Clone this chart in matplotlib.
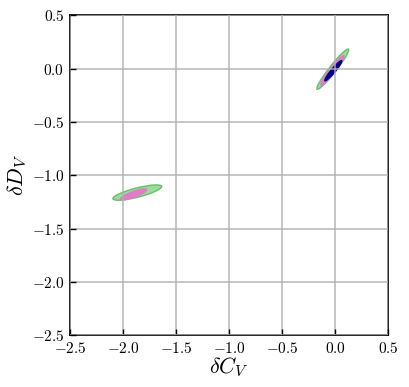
import matplotlib
matplotlib.use("Agg")
import matplotlib.pyplot as plt
from matplotlib.patches import Ellipse
from matplotlib.ticker import FuncFormatter, MultipleLocator

plt.rcParams["mathtext.fontset"] = "cm"
plt.rcParams["font.family"] = "serif"
plt.rcParams["font.serif"] = ["DejaVu Serif"]

# -----------------------------
# Data: confidence ellipses (centre x, centre y, full width, full height, angle)
# -----------------------------
levels = ["outer", "middle", "inner"]
level_colors = ["#7ccf7c", "#e07ac8", "#00008b"]
level_edges = ["#4caf50", "#e07ac8", "#00008b"]
level_alpha = [0.75, 0.95, 1.0]

# blob near the origin
blob1_cx = [-0.022, -0.026, -0.017]
blob1_cy = [-0.004, -0.015, -0.018]
blob1_len = [0.48, 0.35, 0.245]
blob1_wid = [0.068, 0.048, 0.038]
blob1_ang = [51.8, 52.0, 50.0]

# blob near (-1.9, -1.2)
blob2_cx = [-1.865, -1.90]
blob2_cy = [-1.162, -1.179]
blob2_len = [0.475, 0.26]
blob2_wid = [0.088, 0.055]
blob2_ang = [14.3, 20.0]

ticks = [-2.5, -2.0, -1.5, -1.0, -0.5, 0.0, 0.5]

# -----------------------------
# Plot
# -----------------------------
fig = plt.figure(figsize=(4.09, 3.87), dpi=100)
ax = fig.add_axes([0.171, 0.134, 0.778, 0.826])

for i in range(len(blob2_cx)):
    ax.add_patch(Ellipse((blob2_cx[i], blob2_cy[i]), blob2_len[i], blob2_wid[i],
                         angle=blob2_ang[i], facecolor=level_colors[i],
                         edgecolor=level_edges[i], alpha=level_alpha[i], lw=1.0))

for i in range(len(blob1_cx)):
    ax.add_patch(Ellipse((blob1_cx[i], blob1_cy[i]), blob1_len[i], blob1_wid[i],
                         angle=blob1_ang[i], facecolor=level_colors[i],
                         edgecolor=level_edges[i], alpha=level_alpha[i], lw=1.0))

ax.set_xlim(-2.5, 0.5)
ax.set_ylim(-2.5, 0.5)
ax.set_xticks(ticks)
ax.set_yticks(ticks)
fmt = FuncFormatter(lambda v, p: r"$%.1f$" % v if abs(v) > 1e-9 else r"$0.0$")
ax.xaxis.set_major_formatter(fmt)
ax.yaxis.set_major_formatter(fmt)

ax.grid(True, color="#b0b0b0", lw=1.2, alpha=0.85)
ax.set_axisbelow(False)
ax.tick_params(direction="in", length=4, width=1, labelsize=11, pad=4)
for s in ax.spines.values():
    s.set_linewidth(1.2)

ax.set_xlabel(r"$\delta C_V$", fontsize=16, labelpad=0)
ax.set_ylabel(r"$\delta D_V$", fontsize=16, labelpad=2)

fig.savefig("out.png", dpi=100)
